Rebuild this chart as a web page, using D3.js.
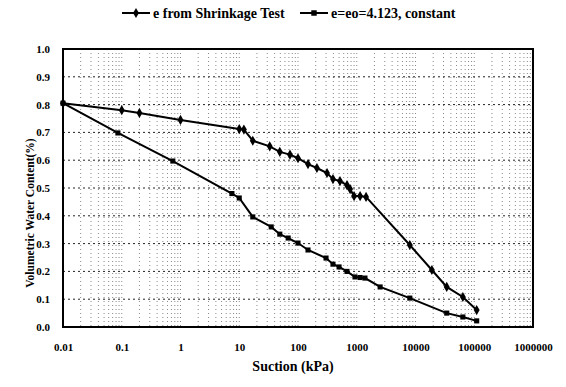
<!DOCTYPE html>
<html>
<head>
<meta charset="utf-8">
<script src="https://cdn.jsdelivr.net/npm/d3@7"></script>
<style>
  body { margin: 0; background: #fff; }
  svg { display: block; }
</style>
</head>
<body>
<div id="chart"></div>
<script>
// series 1: e from shrinkage test
const shrinkSuction = [0.01, 0.1, 0.2, 1, 10, 12, 17, 33, 49, 73, 100, 148, 210, 312, 394, 518, 682, 770, 900, 1140, 1440, 8000, 19000, 34000, 64000, 110000];
const shrinkWater = [0.805, 0.78, 0.77, 0.745, 0.712, 0.71, 0.67, 0.65, 0.63, 0.62, 0.607, 0.586, 0.572, 0.554, 0.532, 0.525, 0.51, 0.496, 0.471, 0.471, 0.468, 0.295, 0.205, 0.144, 0.108, 0.061];
// series 2: e = eo = 4.123 constant
const constSuction = [0.01, 0.086, 0.74, 7.5, 10, 17, 35, 49, 68, 100, 148, 300, 394, 500, 682, 933, 1140, 1380, 2500, 8000, 34000, 64000, 110000];
const constWater = [0.805, 0.698, 0.597, 0.48, 0.464, 0.396, 0.36, 0.334, 0.32, 0.302, 0.277, 0.248, 0.226, 0.216, 0.2, 0.18, 0.178, 0.176, 0.144, 0.104, 0.05, 0.036, 0.022];

const seriesNames = ["e from Shrinkage Test", "e=eo=4.123, constant"];
const xTickValues = [0.01, 0.1, 1, 10, 100, 1000, 10000, 100000, 1000000];
const xTickLabels = ["0.01", "0.1", "1", "10", "100", "1000", "10000", "100000", "1000000"];
const yTickValues = [0, 0.1, 0.2, 0.3, 0.4, 0.5, 0.6, 0.7, 0.8, 0.9, 1.0];
const yTickLabels = ["0.0", "0.1", "0.2", "0.3", "0.4", "0.5", "0.6", "0.7", "0.8", "0.9", "1.0"];

const FONT = "'Liberation Serif', 'Times New Roman', Times, serif";
const W = 566, H = 387;
const plotL = 63, plotR = 533, plotT = 49, plotB = 327;

const svg = d3.select("#chart").append("svg")
    .attr("width", W).attr("height", H)
    .style("font-family", FONT);

const x = d3.scaleLog().domain([0.01, 1000000]).range([plotL, plotR]);
const y = d3.scaleLinear().domain([0, 1]).range([plotB, plotT]);

// vertical grid (log minor lines)
const minor = [];
for (let p = -2; p < 6; p++) {
    for (let m = 1; m < 10; m++) minor.push(m * Math.pow(10, p));
}
svg.append("g")
    .selectAll("line")
    .data(minor.filter(v => v > 0.01))
    .join("line")
    .attr("x1", d => x(d)).attr("x2", d => x(d))
    .attr("y1", plotT).attr("y2", plotB)
    .attr("stroke", "#888")
    .attr("stroke-width", 1)
    .attr("stroke-dasharray", "1,3");

// horizontal grid
svg.append("g")
    .selectAll("line")
    .data(yTickValues.slice(1, -1))
    .join("line")
    .attr("x1", plotL).attr("x2", plotR)
    .attr("y1", d => y(d)).attr("y2", d => y(d))
    .attr("stroke", "#222")
    .attr("stroke-width", 1)
    .attr("stroke-dasharray", "2,3");

// frame
svg.append("rect")
    .attr("x", plotL).attr("y", plotT)
    .attr("width", plotR - plotL).attr("height", plotB - plotT)
    .attr("fill", "none")
    .attr("stroke", "#000")
    .attr("stroke-width", 2);

// axes (labels only)
const xAxis = svg.append("g")
    .attr("transform", `translate(0,${plotB})`)
    .call(d3.axisBottom(x).tickValues(xTickValues).tickFormat((d, i) => xTickLabels[i]).tickSize(0).tickPadding(16));
xAxis.select(".domain").remove();
xAxis.attr("font-family", FONT).attr("font-size", 11).attr("font-weight", "bold");

const yAxis = svg.append("g")
    .attr("transform", `translate(${plotL},0)`)
    .call(d3.axisLeft(y).tickValues(yTickValues).tickFormat((d, i) => yTickLabels[i]).tickSize(0).tickPadding(13));
yAxis.select(".domain").remove();
yAxis.attr("font-family", FONT).attr("font-size", 11).attr("font-weight", "bold");

// axis titles
svg.append("text")
    .attr("x", 293).attr("y", 371)
    .attr("text-anchor", "middle")
    .attr("font-family", FONT).attr("font-weight", "bold")
    .attr("font-size", 14)
    .text("Suction (kPa)");

svg.append("text")
    .attr("transform", "translate(34,213) rotate(-90)")
    .attr("text-anchor", "middle")
    .attr("font-family", FONT).attr("font-weight", "bold")
    .attr("font-size", 11.5)
    .text("Volumetric Water Content(%)");

// series
const series = [
    { name: seriesNames[0], pts: shrinkSuction.map((s, i) => [s, shrinkWater[i]]), sym: d3.symbolDiamond },
    { name: seriesNames[1], pts: constSuction.map((s, i) => [s, constWater[i]]), sym: d3.symbolSquare }
];

const line = d3.line().x(d => x(d[0])).y(d => y(d[1]));

series.forEach(s => {
    svg.append("path")
        .datum(s.pts)
        .attr("d", line)
        .attr("fill", "none")
        .attr("stroke", "#000")
        .attr("stroke-width", 2);
    svg.append("g")
        .selectAll("path")
        .data(s.pts)
        .join("path")
        .attr("transform", d => `translate(${x(d[0])},${y(d[1])})`)
        .attr("d", d3.symbol().type(s.sym).size(s.sym === d3.symbolSquare ? 26 : 30))
        .attr("fill", "#000");
});

// legend
const legendX = [122, 300];
series.forEach((s, i) => {
    const g = svg.append("g").attr("transform", `translate(${legendX[i]},13)`);
    g.append("line").attr("x1", 0).attr("x2", 28).attr("y1", 0).attr("y2", 0)
        .attr("stroke", "#000").attr("stroke-width", 2);
    g.append("path").attr("transform", "translate(14,0)")
        .attr("d", d3.symbol().type(s.sym).size(30)).attr("fill", "#000");
    g.append("text").attr("x", 31).attr("y", 5)
        .attr("font-family", FONT).attr("font-weight", "bold")
        .attr("font-size", 14)
        .text(s.name);
});
</script>
</body>
</html>
